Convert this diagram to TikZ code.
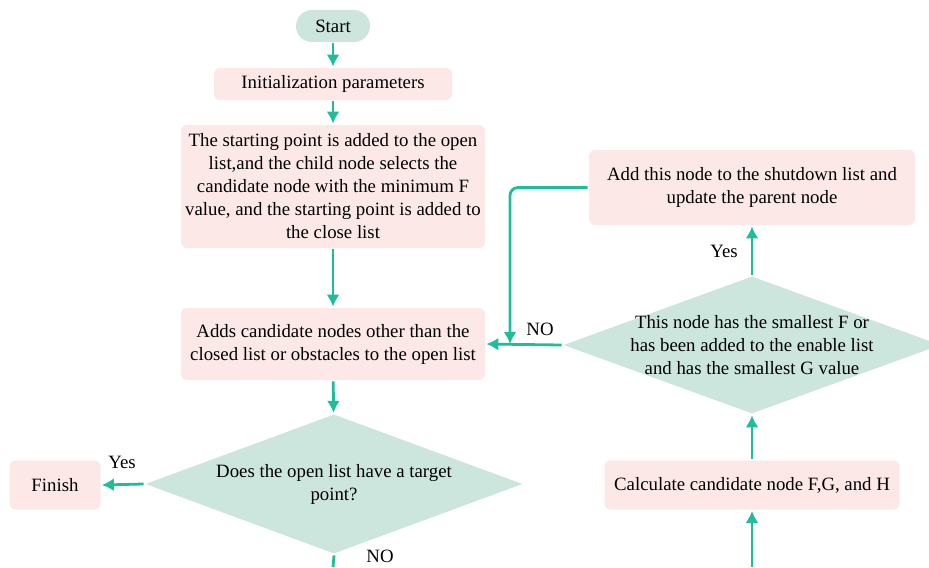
\documentclass[tikz,border=0pt]{standalone}
\usepackage{fontspec}
\setmainfont{Liberation Serif}
\usepackage{tikz}
\usetikzlibrary{arrows.meta,shapes.geometric}
\definecolor{boxpink}{RGB}{253,232,232}
\definecolor{decgreen}{RGB}{204,230,222}
\definecolor{arrgreen}{RGB}{32,190,152}

\begin{document}
\begin{tikzpicture}[x = 0.5pt, y = -0.5pt, line width = 1.4pt,
                        font = \fontsize{9.4}{11.5}\selectfont,
                        box/.style = {rectangle, rounded corners = 3pt, fill = boxpink, align = center, inner sep = 0pt},
                        decision/.style = {diamond, fill = decgreen, inner sep = 0pt, minimum width = 189pt, minimum height = 70pt},
                        arr/.style = {draw = arrgreen, -{Latex[length = 6pt, width = 6.5pt]}}]
      \useasboundingbox (0, 0) rectangle (929, 567);

      \node [box, fill = decgreen, rounded corners = 8pt, minimum width = 37pt, minimum height = 16pt] (start) at (333, 26) {Start};
      \node [box, minimum width = 119pt, minimum height = 16pt] (init) at (333, 84) {Initialization parameters};
      \node [box, minimum width = 152pt, minimum height = 61.5pt] (first) at (333, 186.5)
            {The starting point is added to the open\\list,and the child node selects the\\candidate node with the minimum F\\value, and the starting point is added to\\the close list};
      \node [box, minimum width = 152pt, minimum height = 36pt] (adds) at (333, 344)
            {Adds candidate nodes other than the\\closed list or obstacles to the open list};
      \node [decision] (target) at (334, 484) {};
      \node [align = center] (targettext) at (334, 484) {Does the open list have a target\\point?};
      \node [box, minimum width = 45.5pt, minimum height = 24.5pt] (finish) at (55, 485) {Finish};

      \node [box, minimum width = 147.5pt, minimum height = 24.5pt] (calc) at (752, 485) {Calculate candidate node F,G, and H};
      \node [decision, minimum height = 69pt] (smallest) at (752, 345) {};
      \node [align = center] (smallesttext) at (752, 345)
            {This node has the smallest F or\\has been added to the enable list\\and has the smallest G value};
      \node [box, minimum width = 163pt, minimum height = 37.5pt] (close) at (752, 187.5)
            {Add this node to the shutdown list and\\update the parent node};

      \coordinate (down) at (333, 567);
      \coordinate (up) at (752, 567);
      \coordinate (merge) at (510, 344);

      \node (yes1) at (122, 462) {Yes};
      \node (no1) at (380, 556) {NO};
      \node (yes2) at (724, 251) {Yes};
      \node (no2) at (540, 329) {NO};

      \draw [arr] (start) -- (init);
      \draw [arr] (init) -- (first);
      \draw [arr] (first) -- (adds);
      \draw [arr] (adds) -- (target);
      \draw [arr] (target.west) -- (finish.east);
      \draw [draw = arrgreen] (target.south) -- (down);
      \draw [arr] (up) -- (calc);
      \draw [arr] (calc) -- (smallest.south);
      \draw [arr] (smallest.north) -- (close);
      \draw [arr] (smallest.west) -- (adds.east);
      \draw [arr, rounded corners = 4pt] (close.west) -| (merge);

      \end{tikzpicture}
\end{document}
